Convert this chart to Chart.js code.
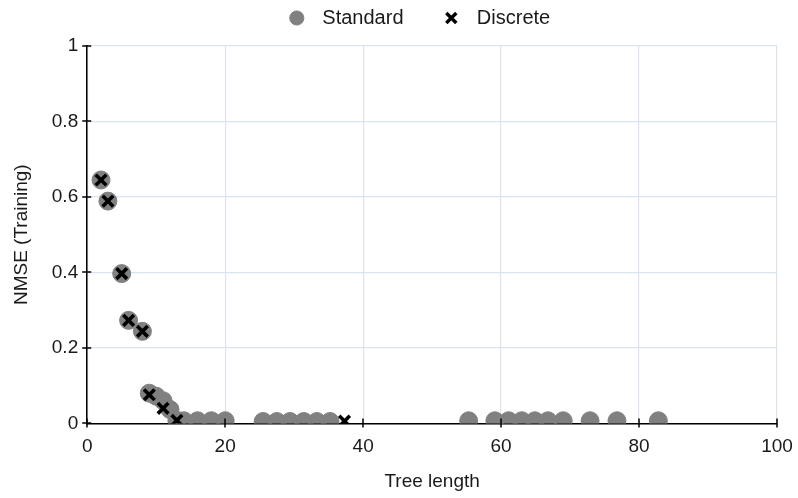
<!DOCTYPE html>
<html>
<head>
<meta charset="utf-8">
<script src="https://cdn.jsdelivr.net/npm/chart.js@4/dist/chart.umd.min.js"></script>
<style>
  html, body { margin: 0; padding: 0; background: #fff; }
  #wrap { width: 798px; height: 498px; }
</style>
</head>
<body>
<div id="wrap"><canvas id="nmse_chart"></canvas></div>
<script>
// tree length vs training NMSE
const standard_len = [2, 3, 5, 6, 8, 9, 10, 11, 12, 13, 14, 16, 18, 20,
  25.5, 27.5, 29.4, 31.4, 33.3, 35.2,
  55.3, 59.1, 61.1, 63, 64.9, 66.8, 69, 72.9, 76.8, 82.8]
const standard_nmse = [0.645, 0.589, 0.397, 0.273, 0.244, 0.08, 0.072, 0.06, 0.037, 0.008, 0.007, 0.007, 0.007, 0.007,
  0.005, 0.005, 0.005, 0.005, 0.005, 0.005,
  0.007, 0.007, 0.007, 0.007, 0.007, 0.007, 0.007, 0.007, 0.007, 0.007]

const discrete_len = [2, 3, 5, 6, 8, 9, 11, 13, 37.3]
const discrete_nmse = [0.645, 0.589, 0.397, 0.273, 0.244, 0.076, 0.04, 0.008, 0.006]

const x_ticks = [0, 20, 40, 60, 80, 100]
const y_ticks = [0, 0.2, 0.4, 0.6, 0.8, 1]

const toPoints = (xs, ys) => xs.map((x, i) => ({x: x, y: ys[i]}))

const FONT = "'Liberation Sans', Arial, sans-serif"
const TEXT = '#1a1a1a'
const NBSP = '\u00a0'
Chart.defaults.font.family = FONT
Chart.defaults.color = TEXT

// short black tick marks that cross the axis lines
const axisTicks = {
  id: 'axisTicks',
  afterDraw(chart) {
    const ctx = chart.ctx
    const xs = chart.scales.x, ys = chart.scales.y
    const bottom = chart.chartArea.bottom, left = chart.chartArea.left
    ctx.save()
    ctx.strokeStyle = '#000'
    ctx.lineWidth = 1.5
    ctx.beginPath()
    x_ticks.forEach(v => {
      const px = Math.round(xs.getPixelForValue(v))
      ctx.moveTo(px, bottom - 5)
      ctx.lineTo(px, bottom + 4)
    })
    y_ticks.forEach(v => {
      const py = Math.round(ys.getPixelForValue(v))
      ctx.moveTo(left - 5, py)
      ctx.lineTo(left + 4, py)
    })
    ctx.stroke()
    ctx.restore()
  }
}

// nudge the legend row up and a bit to the right of centre
const legendNudge = {
  id: 'legendNudge',
  afterLayout(chart) {
    const lg = chart.legend
    if (!lg) return
    lg.top -= 8
    lg.bottom -= 8
    lg.left += 33
  }
}

const ctx = document.getElementById('nmse_chart').getContext('2d')
const chart = new Chart(ctx, {
  type: 'scatter',
  data: {
    datasets: [{
      label: 'Standard',
      data: toPoints(standard_len, standard_nmse),
      backgroundColor: '#808080',
      borderColor: '#808080',
      borderWidth: 1,
      pointRadius: 9,
      pointHoverRadius: 9,
      pointStyle: 'circle',
      order: 1
    }, {
      label: 'Discrete',
      data: toPoints(discrete_len, discrete_nmse),
      backgroundColor: '#000',
      borderColor: '#000',
      borderWidth: 3.6,
      pointRadius: 7.5,
      pointHoverRadius: 7.5,
      pointStyle: 'crossRot',
      order: 0
    }]
  },
  options: {
    responsive: true,
    maintainAspectRatio: false,
    animation: false,
    layout: { padding: { left: 6, right: 0, top: -2, bottom: 1 } },
    plugins: {
      tooltip: { enabled: false },
      legend: {
        position: 'top',
        labels: {
          usePointStyle: true,
          boxHeight: 10,
          padding: 10,
          font: { size: 20 },
          color: TEXT,
          sort: (a, b) => a.datasetIndex - b.datasetIndex,
          // a little air between marker and name, and between the two items
          generateLabels: c => Chart.defaults.plugins.legend.labels.generateLabels(c).map(item => {
            const first = item.datasetIndex === 0
            item.text = NBSP + item.text + (first ? NBSP.repeat(5) : '')
            item.lineWidth = first ? 1 : 3.4
            return item
          })
        }
      }
    },
    scales: {
      x: {
        type: 'linear',
        min: 0,
        max: 100,
        afterBuildTicks: axis => { axis.ticks = x_ticks.map(v => ({value: v})) },
        afterFit: axis => { axis.paddingRight = 21 },
        grid: { color: '#dae4f1', lineWidth: 1.2, drawTicks: false },
        border: { color: '#000', width: 1.5 },
        ticks: { padding: 12, font: { size: 19 }, color: TEXT },
        title: { display: true, text: 'Tree length', font: { size: 19 }, color: TEXT, padding: { top: 0 } }
      },
      y: {
        type: 'linear',
        min: 0,
        max: 1,
        afterBuildTicks: axis => { axis.ticks = y_ticks.map(v => ({value: v})) },
        afterFit: axis => { axis.paddingTop = 46 },
        grid: { color: '#dae4f1', lineWidth: 1.2, drawTicks: false },
        border: { color: '#000', width: 1.5 },
        ticks: { padding: 9, font: { size: 19 }, color: TEXT, callback: v => String(v) },
        title: { display: true, text: 'NMSE (Training)', font: { size: 19 }, color: TEXT, padding: { bottom: 10 } }
      }
    }
  },
  plugins: [axisTicks, legendNudge]
})
</script>
</body>
</html>
